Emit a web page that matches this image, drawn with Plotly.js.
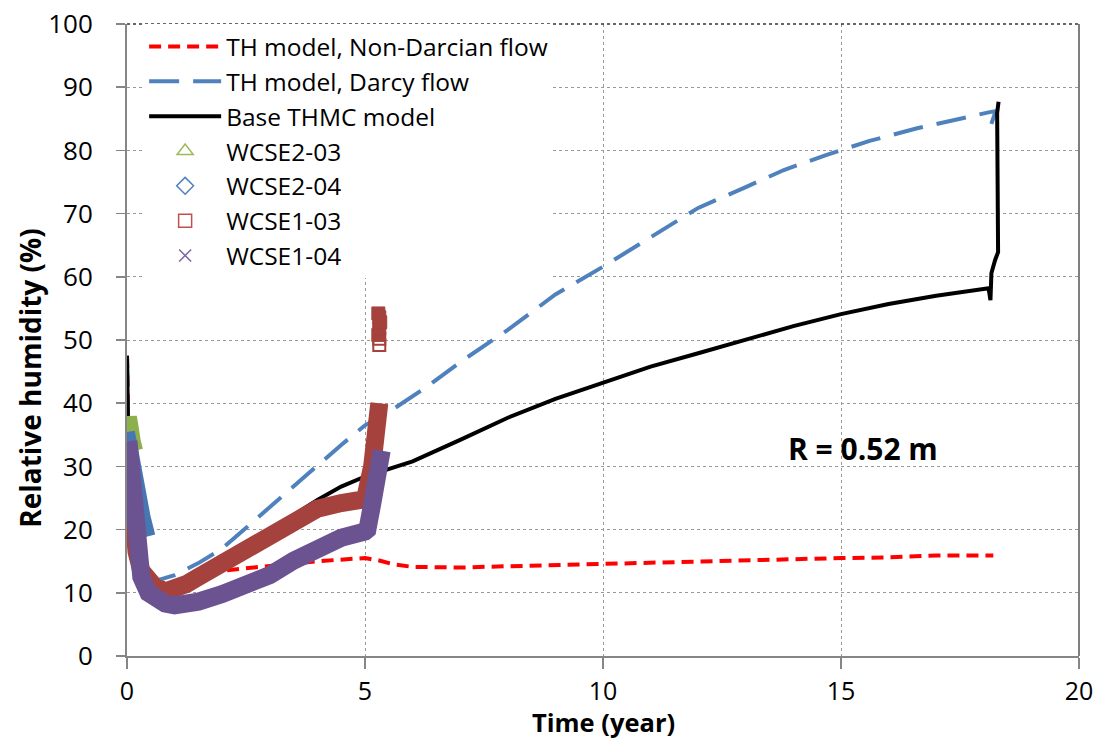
<!DOCTYPE html>
<html>
<head>
<meta charset="utf-8">
<script src="https://cdn.plot.ly/plotly-3.0.1.min.js"></script>
<style>html,body{margin:0;padding:0;background:#fff;}#chart{width:1099px;height:742px;}</style>
</head>
<body>
<div id="chart"></div>
<script>
// ---- Model curves ----
var nonDarcyT = [0, 0.02, 0.1, 0.25, 0.5, 0.8, 1.2, 1.6, 2.0, 2.5, 3.0, 3.5, 4.0, 4.5, 5.0, 5.3, 5.6, 6.0, 6.5, 7.0, 8.0, 9.0, 10, 11, 12, 13, 14, 15, 16, 16.5, 17, 18.2];
var nonDarcyRH = [47.5, 38, 27, 17, 12.3, 11.5, 11.8, 12.6, 13.5, 13.9, 14.2, 14.6, 15.0, 15.3, 15.5, 15.1, 14.5, 14.1, 14.0, 14.0, 14.2, 14.4, 14.6, 14.8, 15.0, 15.1, 15.3, 15.5, 15.6, 15.7, 15.9, 15.9];

var darcyT = [0, 0.02, 0.1, 0.25, 0.5, 0.65, 1.0, 1.5, 2.0, 2.5, 3.0, 3.5, 4.0, 4.5, 5.0, 5.5, 6.3, 7.0, 8.0, 9.0, 10.0, 11.0, 12.0, 13.0, 13.8, 14.7, 15.6, 16.6, 17.5, 18.15, 18.25, 18.15, 18.13];
var darcyRH = [47.5, 38, 27, 17, 12.5, 12, 12.8, 14.7, 17.0, 20.3, 23.5, 27.0, 30.2, 33.4, 36.5, 38.6, 42.6, 46.5, 51.6, 57.2, 61.6, 66.2, 70.9, 74.2, 76.9, 79.3, 81.5, 83.5, 85.1, 86.1, 86.2, 84.0, 82.2];

var thmcT = [0, 0.02, 0.1, 0.25, 0.5, 0.8, 1.2, 1.6, 2.0, 2.5, 3.0, 3.5, 4.0, 4.5, 5.0, 5.3, 6.0, 7.0, 8.0, 9.0, 10, 11, 12, 13, 14, 15, 16, 17, 18.1, 18.14, 18.16, 18.24, 18.3, 18.29, 18.28, 18.31];
var thmcRH = [47.5, 38, 27, 17, 12, 11, 11.5, 12.5, 14, 16.4, 19.4, 22.3, 24.7, 26.8, 28.4, 29.1, 30.8, 34.2, 37.7, 40.7, 43.2, 45.8, 47.9, 50.0, 52.2, 54.1, 55.7, 57.0, 58.2, 56.3, 60.6, 62.7, 63.9, 75.3, 85.9, 87.7];

// ---- Measured data (dense markers, drawn as bands) ----
var wcse203T = [-0.05, 0.0, 0.04, 0.08, 0.12, 0.17];
var wcse203RH = [32.5, 35.5, 37.8, 36, 34, 32.5];

var wcse204T = [0.05, 0.15, 0.27, 0.38, 0.48];
var wcse204RH = [35.5, 31, 26.5, 22, 19];

var wcse103T = [0.02, 0.05, 0.1, 0.15, 0.2, 0.3, 0.45, 0.6, 0.8, 1.0, 1.25, 1.5, 2.0, 2.5, 3.0, 3.5, 4.0, 4.5, 5.0, 5.15, 5.3];
var wcse103RH = [31.5, 28, 23, 19, 16.5, 13.5, 11.8, 10.8, 10.2, 10.5, 11.4, 12.5, 14.7, 17.0, 19.6, 21.8, 23.3, 24.2, 24.8, 30, 40];
var wcse103LateT = [5.28, 5.3, 5.32, 5.3, 5.28];
var wcse103LateRH = [50.8, 51.8, 52.8, 53.6, 54.2];
var wcse103OpenT = [5.3, 5.3];
var wcse103OpenRH = [49.2, 50.2];

var wcse104T = [0.03, 0.08, 0.13, 0.2, 0.3, 0.45, 0.6, 0.8, 1.0, 1.25, 1.5, 2.0, 2.5, 3.0, 3.5, 4.0, 4.5, 5.0, 5.05, 5.15, 5.35];
var wcse104RH = [34, 29, 23, 17, 12.5, 10, 9, 8.3, 8.0, 8.2, 8.6, 9.8, 11.2, 12.8, 15.1, 17.2, 18.7, 19.7, 20.0, 24, 32.5];

var seriesNames = ['TH model, Non-Darcian flow', 'TH model, Darcy flow', 'Base THMC model', 'WCSE2-03', 'WCSE2-04', 'WCSE1-03', 'WCSE1-04'];
var xTicks = [0, 5, 10, 15, 20];
var yTicks = [0, 10, 20, 30, 40, 50, 60, 70, 80, 90, 100];

var FONT = '"Open Sans", Lato, sans-serif';
var bandW = 18;

var traces = [
  {x: nonDarcyT, y: nonDarcyRH, name: seriesNames[0], mode: 'lines', legendrank: 1,
   line: {color: '#FF0000', width: 4, dash: '12px,7px'}},
  {x: darcyT, y: darcyRH, name: seriesNames[1], mode: 'lines', legendrank: 2,
   line: {color: '#4F81BD', width: 4, dash: '30px,14px'}},
  {x: thmcT, y: thmcRH, name: seriesNames[2], mode: 'lines', legendrank: 3,
   line: {color: '#000000', width: 4}},
  {x: wcse203T, y: wcse203RH, name: seriesNames[3], mode: 'lines', showlegend: false,
   line: {color: '#8DB04C', width: 16}},
  {x: wcse204T, y: wcse204RH, name: seriesNames[4], mode: 'lines', showlegend: false,
   line: {color: '#4677B2', width: 11}},
  {x: wcse103T, y: wcse103RH, name: seriesNames[5], mode: 'lines', showlegend: false,
   line: {color: '#A6423D', width: bandW}},
  {x: wcse103LateT, y: wcse103LateRH, name: seriesNames[5], mode: 'markers', showlegend: false,
   marker: {symbol: 'square', size: 13, color: '#A6423D', line: {color: '#A6423D', width: 1}}},
  {x: wcse103OpenT, y: wcse103OpenRH, name: seriesNames[5], mode: 'markers', showlegend: false,
   marker: {symbol: 'square-open', size: 12, color: '#A6423D', line: {color: '#A6423D', width: 2}}},
  {x: wcse104T, y: wcse104RH, name: seriesNames[6], mode: 'lines', showlegend: false,
   line: {color: '#6B5392', width: bandW}},
  // legend entries for measured series
  {x: [null], y: [null], name: seriesNames[3], mode: 'markers', legendrank: 4,
   marker: {symbol: 'triangle-up-open', size: 14, color: '#9BBB59', line: {width: 1.5}}},
  {x: [null], y: [null], name: seriesNames[4], mode: 'markers', legendrank: 5,
   marker: {symbol: 'diamond-open', size: 13, color: '#4F81BD', line: {width: 1.5}}},
  {x: [null], y: [null], name: seriesNames[5], mode: 'markers', legendrank: 6,
   marker: {symbol: 'square-open', size: 13, color: '#C0504D', line: {width: 1.5}}},
  {x: [null], y: [null], name: seriesNames[6], mode: 'markers', legendrank: 7,
   marker: {symbol: 'x-thin-open', size: 12, color: '#8064A2', line: {width: 1.5}}}
];

var layout = {
  width: 1099, height: 742,
  margin: {l: 127, r: 20, t: 24, b: 86},
  paper_bgcolor: '#ffffff', plot_bgcolor: '#ffffff',
  font: {family: FONT, color: '#000000', size: 24},
  showlegend: true,
  legend: {
    x: 0.018, y: 1.0, xanchor: 'left', yanchor: 'top',
    bgcolor: 'rgba(255,255,255,1)', borderwidth: 0,
    font: {family: FONT, size: 24.5, color: '#000'},
    tracegroupgap: 0, itemwidth: 72
  },
  xaxis: {
    range: [0, 20], tickvals: xTicks, ticktext: xTicks.map(String),
    showgrid: true, gridcolor: '#9a9a9a', griddash: 'dot', gridwidth: 1,
    zeroline: false, showline: true, linecolor: '#868686', linewidth: 2,
    ticks: 'outside', ticklen: 11, tickwidth: 1.5, tickcolor: '#868686',
    tickfont: {family: FONT, size: 25}, ticklabelstandoff: 1
  },
  yaxis: {
    range: [0, 100], tickvals: yTicks, ticktext: yTicks.map(String),
    showgrid: true, gridcolor: '#9a9a9a', griddash: 'dot', gridwidth: 1,
    zeroline: false, showline: true, linecolor: '#868686', linewidth: 2,
    ticks: 'outside', ticklen: 9, tickwidth: 1.5, tickcolor: '#868686',
    tickfont: {family: FONT, size: 26}, ticklabelstandoff: 18
  },
  shapes: [
    {type: 'line', xref: 'paper', yref: 'paper', x0: 1, x1: 1, y0: 0, y1: 1, line: {color: '#555555', width: 1.5}},
    {type: 'line', xref: 'paper', yref: 'paper', x0: 0, x1: 1, y0: 1, y1: 1, line: {color: '#333333', width: 1.5, dash: 'dot'}}
  ],
  annotations: [
    {text: '<b>Relative humidity (%)</b>', xref: 'paper', yref: 'paper', x: -0.102, y: 0.44,
     textangle: -90, showarrow: false, xanchor: 'center', yanchor: 'middle',
     font: {family: FONT, size: 28}},
    {text: '<b>Time (year)</b>', xref: 'paper', yref: 'paper', x: 0.5, y: -0.1045,
     showarrow: false, xanchor: 'center', yanchor: 'middle', borderpad: 0,
     font: {family: FONT, size: 25.5}},
    {text: '<b>R = 0.52 m</b>', xref: 'x', yref: 'y', x: 15.47, y: 32.9,
     showarrow: false, xanchor: 'center', yanchor: 'middle', font: {family: FONT, size: 30}}
  ]
};

Plotly.newPlot('chart', traces, layout, {displayModeBar: false, staticPlot: true});
</script>
</body>
</html>
